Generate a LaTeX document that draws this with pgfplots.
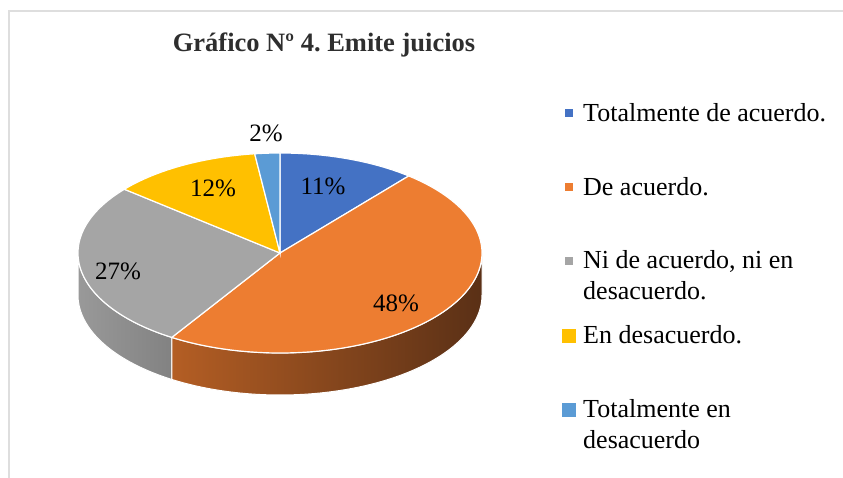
\documentclass[border=0pt]{standalone}
\usepackage{pgfplots}
\pgfplotsset{compat=1.18}
\usepackage{pgfplotstable}
\usepackage{fontspec}
\setmainfont{Liberation Serif}
\frenchspacing

\definecolor{cA}{HTML}{4472C4}
\definecolor{cB}{HTML}{ED7D31}
\definecolor{cC}{HTML}{A5A5A5}
\definecolor{cD}{HTML}{FFC000}
\definecolor{cE}{HTML}{5B9BD5}

\pgfplotstableread{
idx value
0 11
1 48
2 27
3 12
4 2
}\piedata

\pgfplotstablegetelem{0}{value}\of\piedata\edef\vA{\pgfplotsretval}%
\pgfplotstablegetelem{1}{value}\of\piedata\edef\vB{\pgfplotsretval}%
\pgfplotstablegetelem{2}{value}\of\piedata\edef\vC{\pgfplotsretval}%
\pgfplotstablegetelem{3}{value}\of\piedata\edef\vD{\pgfplotsretval}%
\pgfplotstablegetelem{4}{value}\of\piedata\edef\vE{\pgfplotsretval}%
\pgfmathsetmacro\aA{90}%
\pgfmathsetmacro\aB{\aA-3.6*\vA}%
\pgfmathsetmacro\aC{\aB-3.6*\vB}%
\pgfmathsetmacro\aD{\aC-3.6*\vC}%
\pgfmathsetmacro\aE{\aD-3.6*\vD}%
\pgfmathsetmacro\aF{\aE-3.6*\vE}%

% top sector between angles #1 < #2
\newcommand\topsector[3]{%
  \addplot[#3, draw=white, line width=1.2bp, variable=\t, samples at={0,1,...,101}]
  ({280+(\t<=100 ? 202*cos((#1)+((#2)-(#1))*\t/100) : 0)},
   {225+(\t<=100 ? 100*sin((#1)+((#2)-(#1))*\t/100) : 0)}) -- cycle;
}
% side band between angles #1 < #2
\newcommand\sideband[3]{%
  \addplot[#3, draw=white, line width=1bp, variable=\t, samples at={0,1,...,201}]
  ({280+202*cos(\t<=100 ? (#1)+((#2)-(#1))*\t/100 : (#2)-((#2)-(#1))*(\t-101)/100)},
   {225+100*sin(\t<=100 ? (#1)+((#2)-(#1))*\t/100 : (#2)-((#2)-(#1))*(\t-101)/100) - (\t<=100 ? 0 : 42)}) -- cycle;
}

\tikzset{
  lab/.style={font=\fontsize{25bp}{28bp}\selectfont, inner sep=0},
  leg/.style={font=\fontsize{26bp}{30bp}\selectfont, anchor=base west, inner sep=0},
}

\begin{document}%
\begin{tikzpicture}
\begin{axis}[width=843bp, height=478bp, scale only axis,
  xmin=0, xmax=843, ymin=0, ymax=478, hide axis, clip=false]
\coordinate (BL) at (0,0);
\coordinate (TR) at (843,478);
% frame
\draw[black!13, line width=1.5bp] (9,0) -- (9,467) -- (843,467);
% sides
\sideband{-180}{\aC}{left color=black!40, right color=black!49}
\sideband{\aC}{0}{left color={rgb,255:red,180;green,94;blue,36}, middle color={rgb,255:red,96;green,51;blue,24}, right color={rgb,255:red,90;green,48;blue,22}}
% tops
\topsector{\aB}{\aA}{fill=cA}
\topsector{\aC}{\aB}{fill=cB}
\topsector{\aD}{\aC}{fill=cC}
\topsector{\aE}{\aD}{fill=cD}
\topsector{\aF}{\aE}{fill=cE}
% data labels
\node[lab] at (323,478-186) {11\%};
\node[lab] at (396,478-303) {48\%};
\node[lab] at (118,478-271) {27\%};
\node[lab] at (213,478-188) {12\%};
\node[lab] at (266,478-133) {2\%};
% title
\node[font=\fontsize{26.5bp}{30bp}\selectfont\bfseries, text=black!82] at (324,478-45) {Gráfico Nº 4. Emite juicios};
% legend
\node[fill=cA, inner sep=0, minimum size=8bp] at (569,478-113) {};
\node[fill=cB, inner sep=0, minimum size=8bp] at (569,478-187) {};
\node[fill=cC, inner sep=0, minimum size=8bp] at (569,478-261) {};
\node[fill=cD, inner sep=0, minimum size=14bp] at (569,478-336) {};
\node[fill=cE, inner sep=0, minimum size=14bp] at (569,478-410) {};
\node[leg] at (583,478-122) {Totalmente de acuerdo.};
\node[leg] at (583,478-196) {De acuerdo.};
\node[leg] at (583,478-269) {Ni de acuerdo, ni en};
\node[leg] at (583,478-300) {desacuerdo.};
\node[leg] at (583,478-344) {En desacuerdo.};
\node[leg] at (583,478-418) {Totalmente en};
\node[leg] at (583,478-448) {desacuerdo};
\end{axis}
\pgfresetboundingbox
\useasboundingbox (BL) rectangle (TR);
\end{tikzpicture}%
\end{document}
